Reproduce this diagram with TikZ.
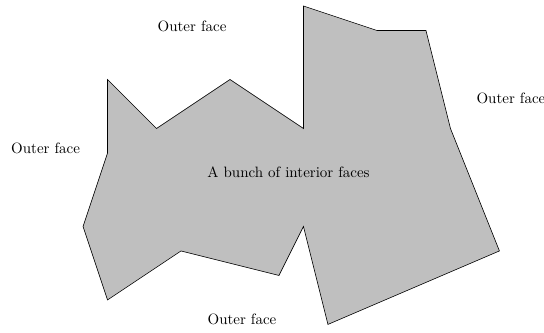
\documentclass[tikz,border=0pt]{standalone}
\usepackage{tikz}
\tikzset{
  region/.style={draw=black, fill=lightgray, line join=miter},
  facelbl/.style={inner sep=1pt},
}

\begin{document}
\begin{tikzpicture}[x=16.33pt, y=-16.33pt]
  \useasboundingbox (-3.39,-0.245) rectangle (18.82,13.31);
  \draw[region] (1,3) -- (3,5) -- (6,3) -- (9,5) -- (9,0) -- (12,1)
    -- (14,1) -- (15,5) -- (17,10) -- (10,13) -- (9,9) -- (8,11)
    -- (4,10) -- (1,12) -- (0,9) -- (1,6) -- cycle;
  \node[facelbl] (inner) at (8.39,6.8) {A bunch of interior faces};
  \node[facelbl] (outtop) at (4.45,0.82) {Outer face};
  \node[facelbl] (outleft) at (-1.53,5.8) {Outer face};
  \node[facelbl] (outright) at (17.47,3.78) {Outer face};
  \node[facelbl] (outbot) at (6.49,12.8) {Outer face};
\end{tikzpicture}
\end{document}
